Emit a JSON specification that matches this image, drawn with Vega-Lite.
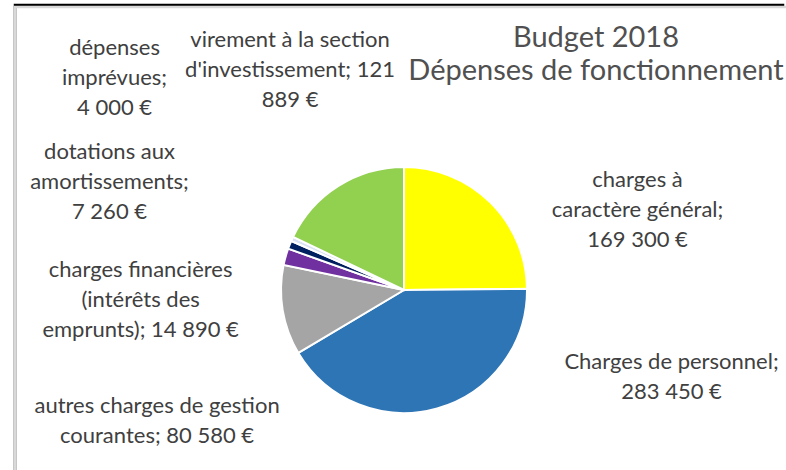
{
  "$schema": "https://vega.github.io/schema/vega-lite/v6.json",
  "autosize": {"type": "none"},
  "padding": {"left": 15, "top": 7, "right": 0, "bottom": 0},
  "width": 778,
  "height": 566,
  "background": "white",
  "config": {
    "view": {"stroke": null},
    "text": {"font": "Lato", "fontSize": 22, "color": "#404040", "lineHeight": 30, "lineBreak": "\n", "align": "center", "baseline": "middle"}
  },
  "data": {
    "values": [
      {"order": 1, "cat": "charges à caractère général", "value": 169300, "label": "charges à\ncaractère général;\n169 300 €"},
      {"order": 2, "cat": "charges de personnel", "value": 283450, "label": "Charges de personnel;\n283 450 €"},
      {"order": 3, "cat": "autres charges de gestion courantes", "value": 80580, "label": "autres charges de gestion\ncourantes; 80 580 €"},
      {"order": 4, "cat": "charges financières", "value": 14890, "label": "charges financières\n(intérêts des\nemprunts); 14 890 €"},
      {"order": 5, "cat": "dotations aux amortissements", "value": 7260, "label": "dotations aux\namortissements;\n7 260 €"},
      {"order": 6, "cat": "dépenses imprévues", "value": 4000, "label": "dépenses\nimprévues;\n4 000 €"},
      {"order": 7, "cat": "virement à la section d'investissement", "value": 121889, "label": "virement à la section\nd'investissement; 121\n889 €"}
    ]
  },
  "layer": [
    {
      "data": {"values": [{"frame": "outer"}]},
      "mark": {"type": "rect", "fill": "transparent", "stroke": "#000000", "strokeWidth": 2.5, "xOffset": -10, "yOffset": -2, "strokeDash": [770, 600, 1400, 0]},
      "encoding": {}
    },
    {
      "data": {"values": [{"frame": "inner"}]},
      "mark": {"type": "rect", "fill": "transparent", "stroke": "#d9d9d9", "strokeWidth": 2.5},
      "encoding": {}
    },
    {
      "data": {"values": [{"title": "Budget 2018\nDépenses de fonctionnement"}]},
      "mark": {"type": "text", "fontSize": 29, "lineHeight": 33, "color": "#505050", "dx": 192, "dy": -252},
      "encoding": {"text": {"field": "title", "type": "nominal"}}
    },
    {
      "mark": {"type": "arc", "outerRadius": 123, "stroke": "white", "strokeWidth": 2},
      "encoding": {
        "theta": {"field": "value", "type": "quantitative", "stack": true},
        "order": {"field": "order", "type": "quantitative", "sort": "ascending"},
        "color": {
          "field": "cat",
          "type": "nominal",
          "legend": null,
          "scale": {
            "domain": ["charges à caractère général", "charges de personnel", "autres charges de gestion courantes", "charges financières", "dotations aux amortissements", "dépenses imprévues", "virement à la section d'investissement"],
            "range": ["#ffff00", "#2e75b6", "#a5a5a5", "#7030a0", "#002060", "#dae3f3", "#92d050"]
          }
        }
      }
    },
    {"mark": {"type": "text", "radius": 150, "dx": 128, "dy": -3}, "encoding": {"theta": {"field": "value", "type": "quantitative", "stack": true}, "order": {"field": "order", "type": "quantitative", "sort": "ascending"}, "text": {"condition": {"test": "datum.order == 1", "field": "label", "type": "nominal"}, "value": ""}}},
    {"mark": {"type": "text", "radius": 150, "dx": 227, "dy": -72}, "encoding": {"theta": {"field": "value", "type": "quantitative", "stack": true}, "order": {"field": "order", "type": "quantitative", "sort": "ascending"}, "text": {"condition": {"test": "datum.order == 2", "field": "label", "type": "nominal"}, "value": ""}}},
    {"mark": {"type": "text", "radius": 150, "dx": -99, "dy": 91}, "encoding": {"theta": {"field": "value", "type": "quantitative", "stack": true}, "order": {"field": "order", "type": "quantitative", "sort": "ascending"}, "text": {"condition": {"test": "datum.order == 3", "field": "label", "type": "nominal"}, "value": ""}}},
    {"mark": {"type": "text", "radius": 150, "dx": -119, "dy": 21}, "encoding": {"theta": {"field": "value", "type": "quantitative", "stack": true}, "order": {"field": "order", "type": "quantitative", "sort": "ascending"}, "text": {"condition": {"test": "datum.order == 4", "field": "label", "type": "nominal"}, "value": ""}}},
    {"mark": {"type": "text", "radius": 150, "dx": -155, "dy": -83}, "encoding": {"theta": {"field": "value", "type": "quantitative", "stack": true}, "order": {"field": "order", "type": "quantitative", "sort": "ascending"}, "text": {"condition": {"test": "datum.order == 5", "field": "label", "type": "nominal"}, "value": ""}}},
    {"mark": {"type": "text", "radius": 150, "dx": -153, "dy": -180}, "encoding": {"theta": {"field": "value", "type": "quantitative", "stack": true}, "order": {"field": "order", "type": "quantitative", "sort": "ascending"}, "text": {"condition": {"test": "datum.order == 6", "field": "label", "type": "nominal"}, "value": ""}}},
    {"mark": {"type": "text", "radius": 150, "dx": -34, "dy": -123}, "encoding": {"theta": {"field": "value", "type": "quantitative", "stack": true}, "order": {"field": "order", "type": "quantitative", "sort": "ascending"}, "text": {"condition": {"test": "datum.order == 7", "field": "label", "type": "nominal"}, "value": ""}}}
  ]
}
